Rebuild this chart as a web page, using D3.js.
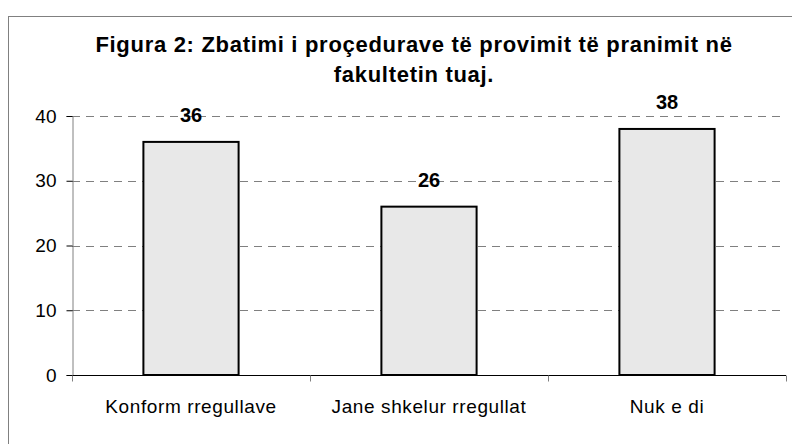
<!DOCTYPE html>
<html>
<head>
<meta charset="utf-8">
<script src="https://cdn.jsdelivr.net/npm/d3@7"></script>
<style>
    body { margin: 0; background: #fff; }
    svg { display: block; font-family: "Liberation Sans", Arial, sans-serif; }
</style>
</head>
<body>
<svg id="chart" width="792" height="444"></svg>
<script>
const categories = ["Konform rregullave", "Jane shkelur rregullat", "Nuk e di"]
const values = [36, 26, 38]
const yTicks = [0, 10, 20, 30, 40]
const titleLines = ["Figura 2: Zbatimi i proçedurave të provimit të pranimit në", "fakultetin tuaj."]

let svg = d3.select("svg#chart")
let margin = {left: 72, right: 6, top: 116, bottom: 69}
let width = 792 - margin.left - margin.right
let height = 444 - margin.top - margin.bottom

// outer frame, runs off the right and bottom edge like the original
svg.append("rect")
    .attr("x", 8.5).attr("y", 16.5)
    .attr("width", 900).attr("height", 600)
    .attr("fill", "none")
    .attr("stroke", "#808080")

svg.append("g")
    .selectAll("text")
    .data(titleLines)
    .join("text")
        .attr("x", 414)
        .attr("y", (d, i) => 52 + i * 30)
        .attr("text-anchor", "middle")
        .attr("font-weight", "bold")
        .attr("font-size", 22)
        .attr("letter-spacing", 0.7)
        .text(d => d)

let x = d3.scaleBand()
    .domain(categories)
    .range([0, width])
    .paddingInner(0.6)
    .paddingOuter(0.3)

let y = d3.scaleLinear()
    .domain([0, 40])
    .range([height, 0])

let g = svg.append("g")
    .attr("transform", `translate(${margin.left},${margin.top})`)

// dashed grid
g.append("g")
    .selectAll("line")
    .data(yTicks.filter(d => d > 0))
    .join("line")
        .attr("x1", 0).attr("x2", width)
        .attr("y1", d => Math.round(y(d)) + 0.5)
        .attr("y2", d => Math.round(y(d)) + 0.5)
        .attr("stroke", "#808080")
        .attr("stroke-dasharray", "8,6")

g.append("g")
    .selectAll("rect")
    .data(values)
    .join("rect")
        .attr("x", (d, i) => x(categories[i]))
        .attr("y", d => y(d))
        .attr("width", x.bandwidth())
        .attr("height", d => height - y(d))
        .attr("fill", "#e8e8e8")
        .attr("stroke", "#000")
        .attr("stroke-width", 2)

g.append("g")
    .selectAll("text")
    .data(values)
    .join("text")
        .attr("x", (d, i) => x(categories[i]) + x.bandwidth() / 2)
        .attr("y", d => y(d) - 20)
        .attr("text-anchor", "middle")
        .attr("font-weight", "bold")
        .attr("font-size", 20)
        .text(d => d)

// y axis
let yAxis = g.append("g")
    .attr("transform", "translate(0.5,0)")
    .call(d3.axisLeft(y).tickValues(yTicks).tickSize(6).tickPadding(10))
yAxis.select(".domain").attr("stroke", "#808080")
yAxis.selectAll(".tick line").attr("stroke", "#000")
yAxis.selectAll("text")
    .attr("font-size", 19)
    .attr("font-family", "Liberation Sans, Arial, sans-serif")
    .attr("fill", "#000")

// x axis: ticks sit at the band boundaries
let step = width / categories.length
let xAxis = g.append("g")
    .attr("transform", `translate(0,${height + 0.5})`)
xAxis.append("line")
    .attr("x1", 0).attr("x2", width)
    .attr("stroke", "#000")
xAxis.selectAll("line.tick")
    .data(d3.range(categories.length + 1))
    .join("line")
        .classed("tick", true)
        .attr("x1", d => Math.round(d * step) + 0.5)
        .attr("x2", d => Math.round(d * step) + 0.5)
        .attr("y1", 0).attr("y2", 6)
        .attr("stroke", "#808080")
xAxis.selectAll("text")
    .data(categories)
    .join("text")
        .attr("x", d => x(d) + x.bandwidth() / 2)
        .attr("y", 37)
        .attr("text-anchor", "middle")
        .attr("font-size", 19)
        .attr("letter-spacing", 0.6)
        .text(d => d)
</script>
</body>
</html>
